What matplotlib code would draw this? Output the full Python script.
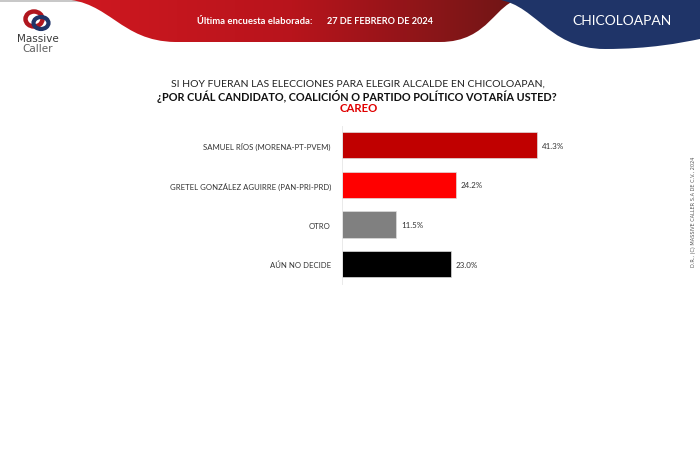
import matplotlib
matplotlib.use("Agg")
import matplotlib.pyplot as plt
import numpy as np
from matplotlib.path import Path
from matplotlib.patches import PathPatch, Ellipse
from matplotlib.colors import LinearSegmentedColormap

categories = ["SAMUEL RÍOS (MORENA-PT-PVEM)", "GRETEL GONZÁLEZ AGUIRRE (PAN-PRI-PRD)", "OTRO", "AÚN NO DECIDE"]
values = [41.3, 24.2, 11.5, 23.0]
bar_colors = ["#C00000", "#FF0000", "#808080", "#000000"]
value_labels = ["41.3%", "24.2%", "11.5%", "23.0%"]

W, H = 700, 464
fig = plt.figure(figsize=(7, 4.64), dpi=100)
fig.patch.set_facecolor("white")

bg = fig.add_axes([0, 0, 1, 1])
bg.set_xlim(0, W)
bg.set_ylim(H, 0)
bg.axis("off")

bg.add_patch(plt.Rectangle((0, 0), W, 2.5, color="#C8C8C8", lw=0))

red_verts = [(62, 0), (110, 2), (120, 42), (175, 43), (440, 43), (490, 43), (495, 2), (522, 0), (62, 0)]
red_codes = [Path.MOVETO, Path.CURVE4, Path.CURVE4, Path.CURVE4, Path.LINETO, Path.CURVE4, Path.CURVE4, Path.CURVE4, Path.CLOSEPOLY]
red_path = PathPatch(Path(red_verts, red_codes), facecolor="none", edgecolor="none")
bg.add_patch(red_path)
grad = np.linspace(0, 1, 256).reshape(1, -1)
cmap_red = LinearSegmentedColormap.from_list("r", ["#D01820", "#B8141C", "#6E1616"])
im = bg.imshow(grad, extent=(62, 522, 44, 0), cmap=cmap_red, aspect="auto", zorder=1)
im.set_clip_path(red_path)

blue_verts = [(490, 0), (535, 0), (545, 50), (605, 50), (650, 50), (680, 44), (700, 40), (700, 0), (490, 0)]
blue_codes = [Path.MOVETO, Path.CURVE4, Path.CURVE4, Path.CURVE4, Path.CURVE4, Path.CURVE4, Path.CURVE4, Path.LINETO, Path.CLOSEPOLY]
bg.add_patch(PathPatch(Path(blue_verts, blue_codes), facecolor="#1F3468", edgecolor="none", zorder=2))

bg.text(255, 21, "Última encuesta elaborada:", color="white", fontsize=6.8, fontweight="bold",
        family="Lato", ha="center", va="center", zorder=3)
bg.text(380, 21, "27 DE FEBRERO DE 2024", color="white", fontsize=6.6, fontweight="bold",
        family="Lato", ha="center", va="center", zorder=3)
bg.text(622, 21, "CHICOLOAPAN", color="white", fontsize=10, family="Lato",
        ha="center", va="center", zorder=3)

bg.add_patch(Ellipse((34, 20), 17, 15, facecolor="none", edgecolor="#B0161E", lw=3.2, zorder=3))
bg.add_patch(Ellipse((41, 24), 15, 12, facecolor="none", edgecolor="#1F3468", lw=3.0, zorder=3))
bg.text(38, 39, "Massive", color="#3A3A3A", fontsize=7.5, family="DejaVu Sans",
        ha="center", va="center", zorder=3)
bg.text(38, 49, "Caller", color="#606060", fontsize=7.5, family="DejaVu Sans",
        ha="center", va="center", zorder=3)

bg.text(358, 84, "SI HOY FUERAN LAS ELECCIONES PARA ELEGIR ALCALDE EN CHICOLOAPAN,", color="#222222",
        fontsize=7.5, family="Lato", ha="center", va="center")
bg.text(357, 96.5, "¿POR CUÁL CANDIDATO, COALICIÓN O PARTIDO POLÍTICO VOTARÍA USTED?", color="#111111",
        fontsize=7.8, family="Lato", fontweight="bold", ha="center", va="center")
bg.text(359, 109, "CAREO", color="#E00000", fontsize=8.2, family="Lato", fontweight="bold",
        ha="center", va="center")

bg.text(694, 212, "D.R., (C) MASSIVE CALLER S.A DE C.V., 2024", color="#555555", fontsize=3.6,
        rotation=90, ha="center", va="center", family="DejaVu Sans")

left = 342 / W
width = 236 / W
top_px, bot_px = 126.5, 285
ax = fig.add_axes([left, (H - bot_px) / H, width, (bot_px - top_px) / H])
ax.set_facecolor("none")
y = np.arange(len(categories))
ax.barh(y, values, color=bar_colors, height=0.66, edgecolor="#DDDDDD", linewidth=0.5)
ax.set_xlim(0, 50)
ax.set_ylim(3.5, -0.5)
ax.set_yticks(y)
ax.set_yticklabels(categories, fontsize=5.6, family="Lato", color="#333333")
ax.tick_params(axis="y", length=0, pad=8)
ax.set_xticks([])
for s in ["top", "right", "bottom"]:
    ax.spines[s].set_visible(False)
ax.spines["left"].set_color("#E6E6E6")
ax.spines["left"].set_linewidth(0.6)
for yi, v, lab in zip(y, values, value_labels):
    ax.text(v + 1.0, yi, lab, va="center", ha="left", fontsize=5.8, family="Lato", color="#333333")

fig.savefig("out.png", dpi=100)
